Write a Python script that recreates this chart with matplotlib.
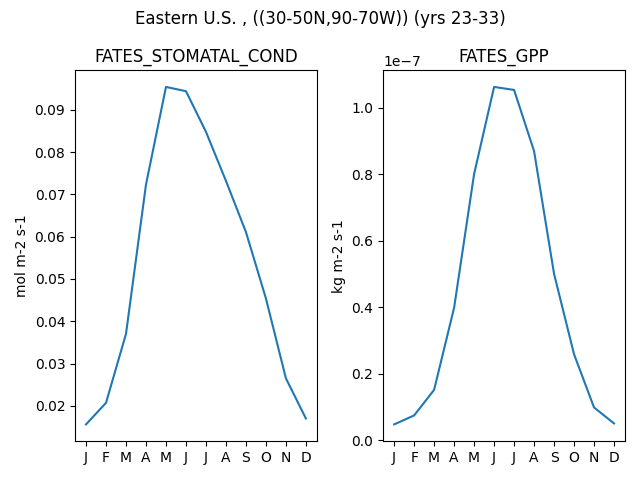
import matplotlib
matplotlib.use("Agg")
import matplotlib.pyplot as plt

months = ['J', 'F', 'M', 'A', 'M', 'J', 'J', 'A', 'S', 'O', 'N', 'D']
stomatal_cond = [0.0156, 0.0207, 0.037, 0.0723, 0.0954, 0.0944, 0.0848, 0.0732, 0.0611, 0.0454, 0.0265, 0.017]
gpp = [0.047e-7, 0.074e-7, 0.151e-7, 0.398e-7, 0.80e-7, 1.062e-7, 1.053e-7, 0.869e-7, 0.50e-7, 0.258e-7, 0.098e-7, 0.05e-7]

fig, (ax1, ax2) = plt.subplots(1, 2, figsize=(6.4, 4.8), dpi=100)
x = range(len(months))

ax1.plot(x, stomatal_cond)
ax1.set_title('FATES_STOMATAL_COND')
ax1.set_ylabel('mol m-2 s-1')
ax1.set_xticks(list(x))
ax1.set_xticklabels(months)

ax2.plot(x, gpp)
ax2.set_title('FATES_GPP')
ax2.set_ylabel('kg m-2 s-1')
ax2.set_xticks(list(x))
ax2.set_xticklabels(months)

fig.suptitle('Eastern U.S. , ((30-50N,90-70W)) (yrs 23-33)')
fig.tight_layout()
fig.savefig('out.png')
